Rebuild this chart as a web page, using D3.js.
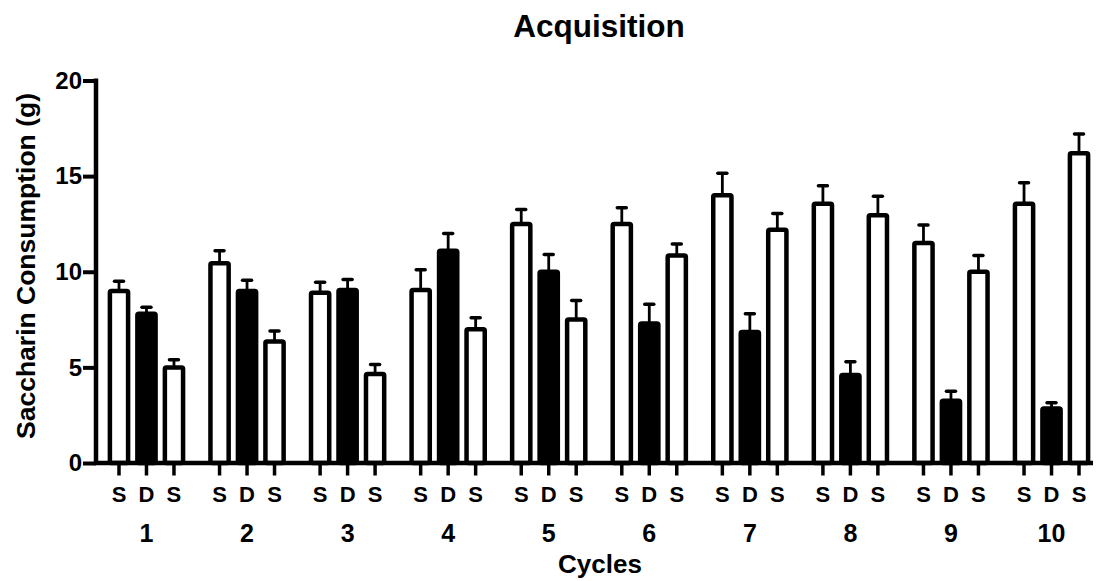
<!DOCTYPE html>
<html>
<head>
<meta charset="utf-8">
<script src="https://cdn.jsdelivr.net/npm/d3@7"></script>
<style>
    body { margin: 0; background: #fff; }
    svg { display: block; font-family: "Liberation Sans", Arial, sans-serif; font-weight: bold; }
</style>
</head>
<body>
<svg id="chart" width="1096" height="581"></svg>
<script>
// ====================================================================
// DATA
// ====================================================================
const cycles = ["1", "2", "3", "4", "5", "6", "7", "8", "9", "10"];
const barLabels = ["S", "D", "S"];

// first saccharin day, drug day, second saccharin day (means)
const saccharin1 = [9.0, 10.45, 8.9, 9.05, 12.5, 12.5, 14.0, 13.55, 11.5, 13.55];
const drug = [7.8, 9.0, 9.05, 11.1, 10.0, 7.3, 6.85, 4.6, 3.25, 2.85];
const saccharin2 = [5.0, 6.35, 4.65, 7.0, 7.5, 10.85, 12.2, 12.95, 10.0, 16.2];

// SEM
const saccharin1Err = [0.5, 0.65, 0.55, 1.05, 0.75, 0.85, 1.15, 0.95, 0.95, 1.1];
const drugErr = [0.35, 0.55, 0.55, 0.9, 0.9, 1.0, 0.95, 0.7, 0.5, 0.3];
const saccharin2Err = [0.4, 0.55, 0.5, 0.6, 1.0, 0.6, 0.85, 1.0, 0.85, 1.0];

const yTicks = [0, 5, 10, 15, 20];

document.addEventListener('DOMContentLoaded', function () {

    // ====================================================================
    // 1. CONFIGURATION
    // ====================================================================
    const CONFIG = {
        width: 1096,
        height: 581,
        plot: { left: 96, right: 1102, top: 80.5, bottom: 463 },
        axisEnd: 1093,
        barWidth: 18.2,
        strokeWidth: 4.5,
        capWidth: 12
    };

    const svg = d3.select("#chart");

    // ====================================================================
    // 2. SCALES
    // ====================================================================
    const x0 = d3.scaleBand()
        .domain(cycles)
        .range([CONFIG.plot.left, CONFIG.plot.right])
        .paddingInner(0.18)
        .paddingOuter(0.092);

    const x1 = d3.scaleBand()
        .domain([0, 1, 2])
        .range([0, x0.bandwidth()]);

    const y = d3.scaleLinear()
        .domain([0, 20])
        .range([CONFIG.plot.bottom, CONFIG.plot.top]);

    const rows = [];
    cycles.forEach((c, i) => {
        rows.push({ cycle: c, k: 0, value: saccharin1[i], err: saccharin1Err[i], fill: "#fff" });
        rows.push({ cycle: c, k: 1, value: drug[i], err: drugErr[i], fill: "#000" });
        rows.push({ cycle: c, k: 2, value: saccharin2[i], err: saccharin2Err[i], fill: "#fff" });
    });
    const cx = d => x0(d.cycle) + x1(d.k) + x1.bandwidth() / 2;

    // ====================================================================
    // 3. BARS + ERROR BARS
    // ====================================================================
    const errG = svg.append("g").attr("stroke", "#000").attr("stroke-width", 2.8);
    errG.selectAll("line.stem")
        .data(rows)
        .join("line")
        .attr("class", "stem")
        .attr("x1", cx).attr("x2", cx)
        .attr("y1", d => y(d.value))
        .attr("y2", d => y(d.value + d.err));
    errG.selectAll("line.cap")
        .data(rows)
        .join("line")
        .attr("class", "cap")
        .attr("stroke-width", 3.5)
        .attr("stroke-linecap", "round")
        .attr("x1", d => cx(d) - CONFIG.capWidth / 2 + 1.5)
        .attr("x2", d => cx(d) + CONFIG.capWidth / 2 - 1.5)
        .attr("y1", d => y(d.value + d.err))
        .attr("y2", d => y(d.value + d.err));

    svg.append("g")
        .selectAll("rect")
        .data(rows)
        .join("rect")
        .attr("x", d => cx(d) - CONFIG.barWidth / 2)
        .attr("width", CONFIG.barWidth)
        .attr("y", d => y(d.value))
        .attr("height", d => y(0) - y(d.value))
        .attr("rx", 1.5)
        .attr("fill", d => d.fill)
        .attr("stroke", "#000")
        .attr("stroke-width", CONFIG.strokeWidth);

    // ====================================================================
    // 4. AXES
    // ====================================================================
    const yAxis = svg.append("g")
        .attr("transform", `translate(${CONFIG.plot.left},0)`)
        .call(d3.axisLeft(y).tickValues(yTicks).tickSize(13).tickPadding(1).tickSizeOuter(0));
    yAxis.select(".domain").remove();
    yAxis.selectAll(".tick line").attr("stroke-width", 4);
    yAxis.selectAll(".tick text")
        .attr("font-size", 24)
        .attr("font-family", "Liberation Sans, Arial, sans-serif")
        .attr("font-weight", "bold")
        .attr("fill", "#000");
    yAxis.append("line")
        .attr("x1", 0).attr("x2", 0)
        .attr("y1", y(20) - 2).attr("y2", y(0))
        .attr("stroke", "#000").attr("stroke-width", 4.5);

    // x axis line
    svg.append("line")
        .attr("x1", CONFIG.plot.left - 2).attr("x2", CONFIG.axisEnd)
        .attr("y1", y(0)).attr("y2", y(0))
        .attr("stroke", "#000").attr("stroke-width", 4.5);

    // bar ticks and S/D labels
    const xt = svg.append("g");
    xt.selectAll("line")
        .data(rows)
        .join("line")
        .attr("x1", cx).attr("x2", cx)
        .attr("y1", y(0)).attr("y2", y(0) + 12.5)
        .attr("stroke", "#000").attr("stroke-width", 3.5);
    xt.selectAll("text")
        .data(rows)
        .join("text")
        .attr("x", cx)
        .attr("y", 501.5)
        .attr("text-anchor", "middle")
        .attr("font-size", 22)
        .text(d => barLabels[d.k]);

    // cycle numbers
    svg.append("g")
        .selectAll("text")
        .data(cycles)
        .join("text")
        .attr("x", d => x0(d) + x1(1) + x1.bandwidth() / 2)
        .attr("y", 542)
        .attr("text-anchor", "middle")
        .attr("font-size", 25)
        .text(d => d);

    // ====================================================================
    // 5. TITLES
    // ====================================================================
    svg.append("text")
        .attr("x", 599).attr("y", 36.5)
        .attr("text-anchor", "middle")
        .attr("font-size", 31.5)
        .text("Acquisition");

    svg.append("text")
        .attr("x", 600).attr("y", 573)
        .attr("text-anchor", "middle")
        .attr("font-size", 26)
        .text("Cycles");

    svg.append("text")
        .attr("transform", "translate(35,266) rotate(-90)")
        .attr("text-anchor", "middle")
        .attr("font-size", 26.5)
        .text("Saccharin Consumption (g)");
});
</script>
</body>
</html>
